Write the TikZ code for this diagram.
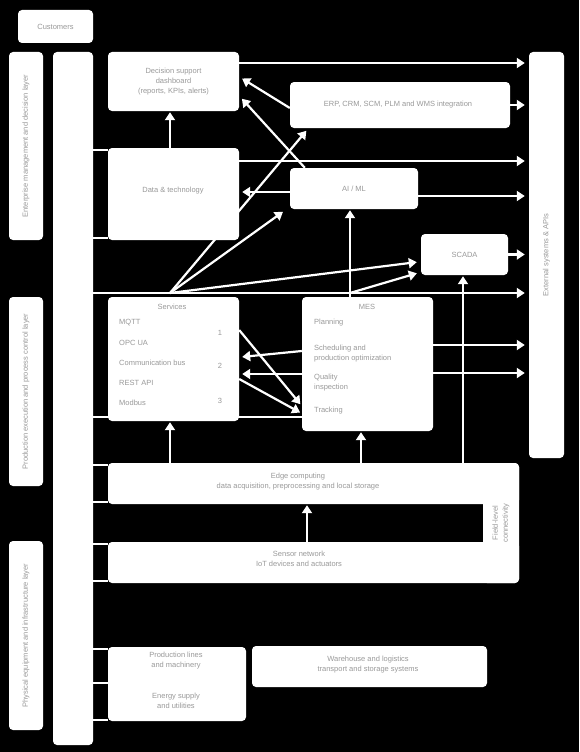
\documentclass[tikz,border=0pt]{standalone}
\usepackage{fontspec}
\setmainfont{Liberation Sans}
\usetikzlibrary{arrows.meta,calc}
\pgfdeclarelayer{bg}
\pgfdeclarelayer{lines}
\pgfsetlayers{bg,lines,main}
\begin{document}
\begin{tikzpicture}[x=1pt,y=-1pt,
  box/.style={fill=white, rounded corners=4pt, inner sep=0pt, draw=none},
  txt/.style={text=black!40, font=\fontsize{7.5}{10}\selectfont, inner sep=0pt, align=center},
  ltxt/.style={txt, anchor=west, align=left},
  vtxt/.style={txt, rotate=90},
  arr/.style={draw=white, line width=2.2pt, -{Triangle[length=8pt,width=10pt]}, shorten >=1pt},
  link/.style={draw=white, line width=2pt}]
\useasboundingbox (0,0) rectangle (579,752);
\begin{pgfonlayer}{bg}
  \fill[black] (0,0) rectangle (579,752);
\end{pgfonlayer}

% ---------- boxes ----------
\node[box, minimum width=75pt, minimum height=33pt] (users) at (55.5,26.5) {};
\node[txt] (userst) at (users.center) {Customers};

\node[box, minimum width=34pt, minimum height=188pt] (L1) at (26,146) {};
\node[vtxt] (L1t) at (L1.center) {Enterprise management and decision layer};
\node[box, minimum width=34pt, minimum height=189pt] (L2) at (26,391.5) {};
\node[vtxt] (L2t) at (L2.center) {Production execution and process control layer};
\node[box, minimum width=34pt, minimum height=189pt] (L3) at (26,635.5) {};
\node[vtxt] (L3t) at (L3.center) {Physical equipment and infrastructure layer};

\node[box, minimum width=40pt, minimum height=693pt] (bus) at (73,398.5) {};

\node[box, minimum width=131pt, minimum height=59pt] (A) at (173.5,81.5) {};
\node[txt] (At) at (A.center) {Decision support\\dashboard\\(reports, KPIs, alerts)};
\node[box, minimum width=131pt, minimum height=92pt] (B) at (173.5,194) {};
\node[txt] (Bt) at (173,191) {Data \& technology};
\node[box, minimum width=220pt, minimum height=46pt] (C) at (400,105) {};
\node[txt] (Ct) at (398,105) {ERP, CRM, SCM, PLM and WMS integration};
\node[box, minimum width=128pt, minimum height=41pt] (D) at (354,188.5) {};
\node[txt] (Dt) at (354,188.5) {AI / ML};
\node[box, minimum width=87pt, minimum height=41pt] (E) at (464.5,254.5) {};
\node[txt] (Et) at (464.5,254.5) {SCADA};
\node[box, minimum width=35pt, minimum height=406pt] (R) at (546.5,255) {};
\node[vtxt] (Rt) at (R.center) {External systems \& APIs};

\node[box, minimum width=131pt, minimum height=124pt] (F) at (173.5,359) {};
\node[txt] (Ft) at (172,307) {Services};
\node[ltxt] (F1) at (119,323) {MQTT};
\node[ltxt] (F2) at (119,343) {OPC UA};
\node[ltxt] (F3) at (119,363) {Communication bus};
\node[ltxt] (F4) at (119,383) {REST API};
\node[ltxt] (F5) at (119,403) {Modbus};
\node[txt] (Fm1) at (220,333) {1};
\node[txt] (Fm2) at (220,366) {2};
\node[txt] (Fm3) at (220,401) {3};

\node[box, minimum width=131pt, minimum height=134pt] (G) at (367.5,364) {};
\node[txt] (Gt) at (367,307) {MES};
\node[ltxt] (G1) at (314,323) {Planning};
\node[ltxt] (G2) at (314,354) {Scheduling and\\production optimization};
\node[ltxt] (G3) at (314,383) {Quality\\inspection};
\node[ltxt] (G4) at (314,411) {Tracking};

\node[box, minimum width=411pt, minimum height=41pt] (H) at (313.5,483.5) {};
\node[txt] (Ht) at (298,482) {Edge computing\\data acquisition, preprocessing and local storage};
\node[box, minimum width=411pt, minimum height=41pt] (I) at (313.5,562.5) {};
\node[txt] (It) at (299,559) {Sensor network\\IoT devices and actuators};
\node[box, minimum width=36pt, minimum height=120pt] (HI) at (501,523) {};
\node[vtxt] (HIt) at (HI.center) {Field-level\\connectivity};

\node[box, minimum width=138pt, minimum height=74pt] (J) at (177,684) {};
\node[txt] (J1) at (176,661) {Production lines\\and machinery};
\node[txt] (J2) at (176,701) {Energy supply\\and utilities};
\node[box, minimum width=235pt, minimum height=41pt] (K) at (369.5,666.5) {};
\node[txt] (Kt) at (368,665) {Warehouse and logistics\\transport and storage systems};

\coordinate (j0) at (170,293);
\coordinate (j1) at (350,293);

% ---------- connectors ----------
\begin{pgfonlayer}{lines}
  % bus links
  \draw[link] (bus.east |- 0,149.5) -- (B.west |- 0,149.5);
  \draw[link] (bus.east |- 0,238) -- (B.west |- 0,238);
  \draw[link] (bus.east |- 0,417) -- (G.west |- 0,417);
  \draw[link] (bus.east |- 0,464.5) -- (H.west |- 0,464.5);
  \draw[link] (bus.east |- 0,502) -- (H.west |- 0,502);
  \draw[link] (bus.east |- 0,543.5) -- (I.west |- 0,543.5);
  \draw[link] (bus.east |- 0,581) -- (I.west |- 0,581);
  \draw[link] (bus.east |- 0,648.5) -- (J.west |- 0,648.5);
  \draw[link] (bus.east |- 0,683) -- (J.west |- 0,683);
  \draw[link] (bus.east |- 0,719.5) -- (J.west |- 0,719.5);
  % top section
  \draw[arr] (A.east |- 0,63) -- ([xshift=-3pt]R.west |- 0,63);
  \draw[arr] (B.north -| 170,0) -- (A.south -| 170,0);
  \draw[arr] (C.east) -- ([xshift=-3pt]R.west |- C.east);
  \draw[arr] (B.east |- 0,161) -- ([xshift=-3pt]R.west |- 0,161);
  \draw[arr] (D.east |- 0,196) -- ([xshift=-3pt]R.west |- 0,196);
  \draw[arr] (E.east) -- ([xshift=-3pt]R.west |- E.east);
  \draw[arr] (bus.east |- 0,293) -- ([xshift=-3pt]R.west |- 0,293);
  \draw[arr] (C.west |- 0,108) -- ([xshift=2pt]A.east |- 0,78);
  \draw[arr] ([xshift=15pt]D.north west) -- ([xshift=2pt]A.east |- 0,98);
  \draw[arr] (D.west |- 0,192) -- ([xshift=2pt]B.east |- 0,192);
  \draw[arr] (j0) -- (307,130);
  \draw[arr] (j0) -- ([shift={(-6pt,-2pt)}]D.south west);
  \draw[arr] (j0) -- ([xshift=-3pt]E.west |- 0,262);
  \draw[arr] (j1) -- ([xshift=-3pt]E.west |- 0,273);
  \draw[arr] (G.north -| j1) -- (D.south -| j1);
  % middle section
  \draw[arr] (F.east |- 0,330) -- (301,405);
  \draw[arr] (F.east |- 0,379) -- (301,413);
  \draw[arr] (G.west |- 0,351) -- ([xshift=2pt]F.east |- 0,357);
  \draw[arr] (G.west |- 0,374) -- ([xshift=2pt]F.east |- 0,374);
  \draw[arr] (G.east |- 0,345) -- ([xshift=-3pt]R.west |- 0,345);
  \draw[arr] (G.east |- 0,373) -- ([xshift=-3pt]R.west |- 0,373);
  \draw[arr] (H.north -| 170,0) -- (F.south -| 170,0);
  \draw[arr] (H.north -| 361,0) -- (G.south -| 361,0);
  \draw[arr] (H.north -| 463,0) -- (E.south -| 463,0);
  \draw[arr] (I.north -| 307,0) -- (H.south -| 307,0);
\end{pgfonlayer}
\end{tikzpicture}
\end{document}
